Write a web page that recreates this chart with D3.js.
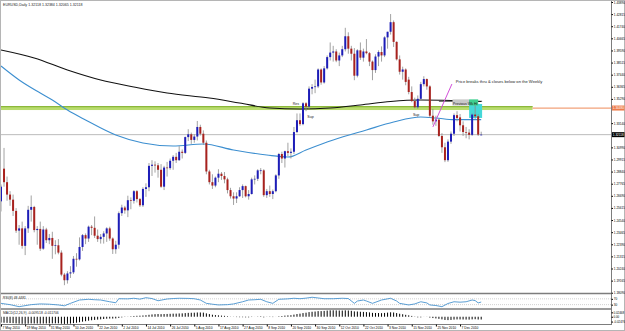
<!DOCTYPE html>
<html>
<head>
<meta charset="utf-8">
<title>EURUSD Daily</title>
<script src="https://cdn.jsdelivr.net/npm/d3@7"></script>
<style>
  body { margin: 0; background: #fff; }
  svg { display: block; font-family: Arial, "Liberation Sans", sans-serif; }
</style>
</head>
<body>
<svg id="chart" width="625" height="331"></svg>
<script>
// EURUSD, Daily  7 May 2010 .. 16 Dec 2010

// one row per day: open, high, low, close
const ohlc = [
  [1.2620,1.2770,1.2530,1.2750],[1.2910,1.3094,1.2750,1.2790],[1.2790,1.2840,1.2625,1.2680],[1.2680,1.2710,1.2580,1.2635],
  [1.2635,1.2680,1.2490,1.2535],[1.2535,1.2560,1.2340,1.2360],[1.2360,1.2410,1.2235,1.2380],[1.2380,1.2440,1.2200,1.2225],
  [1.2225,1.2400,1.2143,1.2380],[1.2380,1.2580,1.2340,1.2545],[1.2545,1.2672,1.2440,1.2570],[1.2570,1.2580,1.2345,1.2365],
  [1.2365,1.2400,1.2235,1.2375],[1.2375,1.2440,1.2180,1.2200],[1.2200,1.2400,1.2190,1.2370],[1.2370,1.2385,1.2250,1.2275],
  [1.2275,1.2330,1.2240,1.2295],[1.2295,1.2350,1.2110,1.2225],[1.2225,1.2275,1.2150,1.2230],[1.2230,1.2285,1.2150,1.2165],
  [1.2165,1.2185,1.1955,1.1970],[1.1970,1.1985,1.1876,1.1920],[1.1920,1.2000,1.1890,1.1980],[1.1980,1.2045,1.1940,1.1990],
  [1.1990,1.2135,1.1975,1.2110],[1.2110,1.2160,1.2040,1.2105],[1.2105,1.2300,1.2095,1.2215],[1.2215,1.2330,1.2180,1.2320],
  [1.2320,1.2335,1.2240,1.2290],[1.2290,1.2405,1.2260,1.2395],[1.2395,1.2410,1.2320,1.2385],[1.2385,1.2486,1.2295,1.2315],
  [1.2315,1.2370,1.2260,1.2285],[1.2285,1.2330,1.2245,1.2305],[1.2305,1.2355,1.2245,1.2335],[1.2335,1.2390,1.2260,1.2380],
  [1.2380,1.2395,1.2270,1.2290],[1.2290,1.2300,1.2153,1.2195],[1.2195,1.2270,1.2155,1.2235],[1.2235,1.2530,1.2200,1.2515],
  [1.2515,1.2590,1.2490,1.2565],[1.2565,1.2580,1.2510,1.2540],[1.2540,1.2670,1.2480,1.2630],[1.2630,1.2655,1.2550,1.2625],
  [1.2625,1.2720,1.2600,1.2710],[1.2710,1.2720,1.2610,1.2640],[1.2640,1.2650,1.2570,1.2585],[1.2585,1.2745,1.2570,1.2730],
  [1.2730,1.2780,1.2660,1.2745],[1.2745,1.2960,1.2710,1.2935],[1.2935,1.2985,1.2845,1.2945],[1.2945,1.2975,1.2875,1.2940],
  [1.2940,1.2960,1.2830,1.2900],[1.2900,1.2950,1.2740,1.2750],[1.2750,1.2935,1.2720,1.2920],[1.2920,1.2970,1.2840,1.2915],
  [1.2915,1.3000,1.2900,1.2980],[1.2980,1.3030,1.2900,1.3015],[1.3015,1.3050,1.2960,1.2985],[1.2985,1.3110,1.2980,1.3060],
  [1.3060,1.3080,1.3000,1.3050],[1.3050,1.3195,1.3040,1.3190],[1.3190,1.3260,1.3155,1.3215],[1.3215,1.3230,1.3130,1.3165],
  [1.3165,1.3215,1.3140,1.3195],[1.3195,1.3333,1.3160,1.3280],[1.3280,1.3300,1.3205,1.3220],[1.3220,1.3250,1.3120,1.3140],
  [1.3140,1.3160,1.2860,1.2885],[1.2885,1.2900,1.2770,1.2790],[1.2790,1.2860,1.2730,1.2760],[1.2760,1.2840,1.2745,1.2830],
  [1.2830,1.2905,1.2790,1.2865],[1.2865,1.2880,1.2810,1.2845],[1.2845,1.2880,1.2780,1.2815],[1.2815,1.2830,1.2690,1.2720],
  [1.2720,1.2740,1.2645,1.2665],[1.2665,1.2700,1.2588,1.2645],[1.2645,1.2700,1.2605,1.2665],[1.2665,1.2745,1.2660,1.2720],
  [1.2720,1.2770,1.2650,1.2755],[1.2755,1.2760,1.2655,1.2665],[1.2665,1.2720,1.2635,1.2685],[1.2685,1.2830,1.2680,1.2815],
  [1.2815,1.2850,1.2770,1.2820],[1.2820,1.2905,1.2800,1.2895],[1.2895,1.2915,1.2860,1.2895],[1.2895,1.2905,1.2660,1.2675],
  [1.2675,1.2730,1.2650,1.2710],[1.2710,1.2760,1.2660,1.2685],[1.2685,1.2725,1.2640,1.2710],[1.2710,1.2860,1.2700,1.2850],
  [1.2850,1.3050,1.2820,1.3040],[1.3040,1.3060,1.2960,1.3000],[1.3000,1.3070,1.2920,1.3065],[1.3065,1.3140,1.3020,1.3050],
  [1.3050,1.3090,1.3000,1.3060],[1.3060,1.3280,1.3040,1.3235],[1.3235,1.3400,1.3225,1.3340],[1.3340,1.3400,1.3290,1.3305],
  [1.3305,1.3500,1.3295,1.3490],[1.3490,1.3500,1.3420,1.3460],[1.3460,1.3640,1.3440,1.3620],[1.3620,1.3660,1.3570,1.3635],
  [1.3635,1.3700,1.3580,1.3640],[1.3640,1.3800,1.3625,1.3790],[1.3790,1.3800,1.3655,1.3675],[1.3675,1.3820,1.3665,1.3800],
  [1.3800,1.3915,1.3790,1.3900],[1.3900,1.4030,1.3870,1.3940],[1.3940,1.4000,1.3860,1.3950],[1.3950,1.3970,1.3855,1.3870],
  [1.3870,1.3940,1.3820,1.3915],[1.3915,1.4000,1.3900,1.3970],[1.3970,1.4160,1.3950,1.4085],[1.4085,1.4120,1.3930,1.3975],
  [1.3975,1.4000,1.3870,1.3930],[1.3930,1.3980,1.3695,1.3735],[1.3735,1.3970,1.3720,1.3960],[1.3960,1.4030,1.3875,1.3895],
  [1.3895,1.3975,1.3860,1.3950],[1.3950,1.4060,1.3925,1.3935],[1.3935,1.3945,1.3820,1.3860],[1.3860,1.3870,1.3695,1.3785],
  [1.3785,1.3925,1.3760,1.3905],[1.3905,1.3960,1.3820,1.3945],[1.3945,1.3995,1.3860,1.3915],[1.3915,1.4085,1.3900,1.4075],
  [1.4075,1.4125,1.3975,1.4125],[1.4125,1.4282,1.4100,1.4210],[1.4210,1.4225,1.3990,1.4035],[1.4035,1.4040,1.3870,1.3880],
  [1.3880,1.3915,1.3745,1.3770],[1.3770,1.3815,1.3700,1.3790],[1.3790,1.3800,1.3650,1.3680],[1.3700,1.3725,1.3570,1.3590],
  [1.3590,1.3640,1.3500,1.3510],[1.3510,1.3540,1.3445,1.3455],[1.3455,1.3560,1.3440,1.3530],[1.3530,1.3680,1.3520,1.3660],
  [1.3660,1.3730,1.3640,1.3705],[1.3705,1.3710,1.3610,1.3640],[1.3640,1.3650,1.3360,1.3380],[1.3380,1.3440,1.3300,1.3330],
  [1.3330,1.3380,1.3290,1.3345],[1.3345,1.3355,1.3190,1.3200],[1.3200,1.3225,1.3050,1.3100],[1.3100,1.3140,1.2968,1.2985],
  [1.2985,1.3170,1.2970,1.3150],[1.3150,1.3240,1.3130,1.3220],[1.3220,1.3400,1.3200,1.3385],[1.3385,1.3420,1.3330,1.3360],
  [1.3365,1.3395,1.3240,1.3295],[1.3295,1.3330,1.3200,1.3235],[1.3235,1.3280,1.3180,1.3230],[1.3230,1.3260,1.3170,1.3210],
  [1.3210,1.3400,1.3200,1.3390],[1.3390,1.3500,1.3350,1.3375],[1.3375,1.3395,1.3200,1.3212],[1.3212,1.3238,1.3207,1.3212]
];

// moving averages: [bar, price]
const maBlack = [[0,1.3963],[11,1.3892],[22,1.3786],[33,1.3697],[44,1.3635],[55,1.3581],[69,1.3537],[79,1.3493],
  [89,1.3448],[99,1.3439],[109,1.3448],[119,1.3475],[129,1.3506],[139,1.3519],[149,1.3515],[159,1.3506]];
const maBlue = [[0,1.3821],[6,1.3697],[13,1.3581],[17,1.3519],[22,1.3430],[28,1.3342],[38,1.3209],[47,1.3138],
  [57,1.3111],[67,1.3129],[77,1.3076],[88,1.3031],[95,1.3013],[101,1.3076],[110,1.3164],[121,1.3253],
  [130,1.3324],[139,1.3368],[144,1.3360],[150,1.3345],[159,1.3345]];

// RSI(8): [bar, value]
const rsi = [[0,39],[3,30],[6,16],[10,30],[13,35],[16,33],[19,28],[21,22],[23,39],[26,62],[29,67],[31,64],[33,62],
  [36,50],[38,43],[39,71],[42,70],[44,74],[46,68],[48,78],[50,72],[52,57],[55,69],[57,72],[59,74],[62,73],[64,71],[66,62],
  [68,39],[70,33],[72,28],[75,30],[77,35],[80,50],[82,62],[84,64],[86,67],[88,50],[90,39],[92,67],[95,70],[97,74],[99,71],
  [101,75],[103,81],[105,76],[107,71],[110,71],[113,74],[115,72],[117,39],[118,55],[120,62],[121,55],[123,39],[126,62],
  [129,74],[131,55],[132,39],[135,28],[137,35],[139,50],[141,42],[142,28],[144,24],[146,16],[148,38],[150,50],[152,47],
  [154,50],[156,62],[157,58],[158,42],[159,48]];

// MACD(12,26,9) main value per bar
const macd = [
  -0.0200,-0.0205,-0.0210,-0.0215,-0.0220,-0.0228,-0.0235,-0.0240,-0.0240,-0.0235,-0.0228,-0.0230,-0.0232,
  -0.0235,-0.0232,-0.0230,-0.0228,-0.0228,-0.0226,-0.0226,-0.0238,-0.0245,-0.0240,-0.0232,-0.0218,-0.0205,-0.0188,-0.0168,
  -0.0152,-0.0135,-0.0120,-0.0108,-0.0098,-0.0088,-0.0078,-0.0068,-0.0062,-0.0062,-0.0058,-0.0040,-0.0022,
  -0.0008,0.0005,0.0015,0.0026,0.0032,0.0036,0.0044,0.0052,0.0066,0.0078,0.0087,0.0092,0.0088,0.0092,0.0095,0.0100,
  0.0105,0.0106,0.0112,0.0115,0.0124,0.0132,0.0135,0.0138,0.0145,0.0145,0.0140,0.0115,0.0090,0.0068,0.0055,0.0047,
  0.0038,0.0030,0.0018,0.0005,-0.0005,-0.0012,-0.0015,-0.0016,-0.0020,-0.0020,-0.0010,-0.0002,0.0008,0.0015,0.0000,
  -0.0005,-0.0010,-0.0012,-0.0002,0.0015,0.0025,0.0038,0.0046,0.0052,0.0072,0.0092,0.0105,0.0125,0.0138,0.0158,0.0170,
  0.0178,0.0192,0.0192,0.0200,0.0210,0.0218,0.0220,0.0215,0.0212,0.0210,0.0218,0.0212,0.0202,0.0182,0.0178,0.0170,
  0.0165,0.0158,0.0148,0.0132,0.0128,0.0126,0.0122,0.0130,0.0140,0.0152,0.0145,0.0125,0.0102,0.0085,0.0065,0.0048,
  0.0028,0.0008,0.0000,0.0000,0.0002,-0.0004,-0.0028,-0.0045,-0.0058,-0.0072,-0.0090,-0.0110,-0.0115,-0.0110,-0.0098,
  -0.0092,-0.0092,-0.0094,-0.0096,-0.0098,-0.0090,-0.0085,-0.0095,-0.0095
];

// axis labels
const priceTicks = [1.43890,1.42815,1.41740,1.40665,1.39590,1.38515,1.37440,1.36365,1.35290,1.34215,1.33140,
  1.32065,1.30990,1.29915,1.28840,1.27765,1.26690,1.25615,1.24540,1.23465,1.22390,1.21315,1.20240,1.19165,1.18090];
const dateTickBars = [0,8,16,24,32,40,48,56,64,72,80,88,96,104,112,120,128,136,144,152];
const dateTickLabels = ['7 May 2010','19 May 2010','31 May 2010','10 Jun 2010','22 Jun 2010','2 Jul 2010','14 Jul 2010',
  '26 Jul 2010','5 Aug 2010','17 Aug 2010','27 Aug 2010','8 Sep 2010','20 Sep 2010','30 Sep 2010','12 Oct 2010',
  '22 Oct 2010','3 Nov 2010','15 Nov 2010','25 Nov 2010','7 Dec 2010'];
const rsiLevels = [70, 30];
const macdTicks = [0.0150, 0, -0.0165];
const macdTickLabels = ['0.02468', '0.00', '-0.02476'];

// drawn objects
const levelPrice = 1.3448;      // horizontal S/R level
const levelEndBar = 176;
const lastPrice = 1.32118;
const weekZone = { from: 155, to: 159.3, hi: 1.3484, lo: 1.3360 };
const trendLine = [[143, 1.3280], [149.3, 1.3661]];
const notes = [
  { bar: 150.6, price: 1.3672, text: 'Price breaks thru &  closes below on the Weekly', size: 4.1 },
  { bar: 96.6, price: 1.3478, text: 'Res', size: 3.6 },
  { bar: 101.4, price: 1.3362, text: 'Sup', size: 3.6 },
  { bar: 136.4, price: 1.3380, text: 'Sup', size: 3.6 }
];
const header = 'EURUSD,Daily  1.32118 1.32384 1.32065 1.32118';
const rsiHeader = 'RSI(8) 48.4481';
const macdHeader = 'MACD(12,26,9) -0.009518 -0.011706';

const W = 625, H = 331;
const axisX = 611;
const mainBottom = 293;

const svg = d3.select('#chart');

const x = d3.scaleLinear().domain([0, 159]).range([1, 481.2]);
const y = d3.scaleLinear().domain([1.1811, 1.4389]).range([292.5, 2]);
const yRsi = d3.scaleLinear().domain([0, 100]).range([309, 294.5]);
const yMacd = d3.scaleLinear().domain([-0.0248, 0.0247]).range([324, 309.5]);

svg.append('rect').attr('width', W).attr('height', H).attr('fill', '#fff');

svg.append('clipPath').attr('id', 'mainclip')
  .append('rect').attr('x', 0).attr('y', 0).attr('width', axisX).attr('height', mainBottom);

const main = svg.append('g').attr('clip-path', 'url(#mainclip)');

// S/R band + its continuation
main.append('rect')
  .attr('x', 0).attr('width', x(levelEndBar))
  .attr('y', y(levelPrice) - 2).attr('height', 4)
  .attr('fill', '#b9dc6e');
main.append('line')
  .attr('x1', 0).attr('x2', x(levelEndBar))
  .attr('y1', y(levelPrice) - 1.5).attr('y2', y(levelPrice) - 1.5)
  .attr('stroke', '#8cb83a').attr('stroke-width', 1.2);
main.append('line')
  .attr('x1', x(levelEndBar)).attr('x2', axisX)
  .attr('y1', y(levelPrice)).attr('y2', y(levelPrice))
  .attr('stroke', '#f2a27a').attr('stroke-width', 1.2);

// last price line
main.append('line')
  .attr('x1', 0).attr('x2', axisX)
  .attr('y1', y(lastPrice)).attr('y2', y(lastPrice))
  .attr('stroke', '#a9a9a9').attr('stroke-width', 0.8);

// weekly zone
main.append('rect')
  .attr('x', x(weekZone.from)).attr('width', x(weekZone.to) - x(weekZone.from))
  .attr('y', y(weekZone.hi)).attr('height', y(weekZone.lo) - y(weekZone.hi))
  .attr('fill', '#45d8d8');

// moving averages
const maLine = d3.line().x(d => x(d[0])).y(d => y(d[1])).curve(d3.curveMonotoneX);
main.append('path').attr('d', maLine(maBlack))
  .attr('fill', 'none').attr('stroke', '#111').attr('stroke-width', 1.1);
main.append('path').attr('d', maLine(maBlue))
  .attr('fill', 'none').attr('stroke', '#3d8fd0').attr('stroke-width', 1.1);

// candles
const candles = main.append('g').selectAll('g').data(ohlc).join('g');
candles.append('line')
  .attr('x1', (d, i) => x(i)).attr('x2', (d, i) => x(i))
  .attr('y1', d => y(d[1])).attr('y2', d => y(d[2]))
  .attr('stroke', '#8a8a8a').attr('stroke-width', 0.8);
candles.append('rect')
  .attr('x', (d, i) => x(i) - 1).attr('width', 2)
  .attr('y', d => y(Math.max(d[0], d[3])))
  .attr('height', d => Math.max(0.7, Math.abs(y(d[0]) - y(d[3]))))
  .attr('fill', d => d[3] >= d[0] ? '#1d1db8' : '#a8221e');

// previous week marker
main.append('line')
  .attr('x1', x(145)).attr('x2', x(159.3))
  .attr('y1', y(1.3508)).attr('y2', y(1.3508))
  .attr('stroke', '#222').attr('stroke-width', 0.8);
main.append('rect')
  .attr('x', x(149.5)).attr('width', x(155) - x(149.5))
  .attr('y', y(1.3525)).attr('height', y(1.3470) - y(1.3525))
  .attr('fill', '#c9c9c9');
main.append('rect')
  .attr('x', x(155)).attr('width', x(158) - x(155))
  .attr('y', y(1.3525)).attr('height', y(1.3470) - y(1.3525))
  .attr('fill', '#3fcf8f');
main.append('text')
  .attr('x', x(149.6)).attr('y', y(1.3478))
  .attr('font-size', 3.6).attr('fill', '#222')
  .text('Previous Wk Hi');

// trend line
main.append('line')
  .attr('x1', x(trendLine[0][0])).attr('y1', y(trendLine[0][1]))
  .attr('x2', x(trendLine[1][0])).attr('y2', y(trendLine[1][1]))
  .attr('stroke', '#d24fd8').attr('stroke-width', 1);

main.selectAll('text.note').data(notes).join('text')
  .attr('class', 'note')
  .attr('x', d => x(d.bar)).attr('y', d => y(d.price))
  .attr('font-size', d => d.size).attr('fill', '#222')
  .text(d => d.text);

svg.append('text').attr('x', 3).attr('y', 6).attr('font-size', 3.6).attr('fill', '#222').text(header);

// RSI panel
const rsiG = svg.append('g');
rsiG.selectAll('line.lvl').data(rsiLevels).join('line')
  .attr('class', 'lvl')
  .attr('x1', 0).attr('x2', axisX)
  .attr('y1', d => yRsi(d)).attr('y2', d => yRsi(d))
  .attr('stroke', '#b0b0b0').attr('stroke-width', 0.6).attr('stroke-dasharray', '1,1');
rsiG.append('path')
  .attr('d', d3.line().x(d => x(d[0])).y(d => yRsi(d[1]))(rsi))
  .attr('fill', 'none').attr('stroke', '#4a94cf').attr('stroke-width', 0.9);
rsiG.append('text').attr('x', 3).attr('y', 298.5).attr('font-size', 3.4).attr('fill', '#222').text(rsiHeader);

// MACD panel
const macdG = svg.append('g');
macdG.selectAll('line').data(macd).join('line')
  .attr('x1', (d, i) => x(i)).attr('x2', (d, i) => x(i))
  .attr('y1', yMacd(0)).attr('y2', d => yMacd(d) + (d === 0 ? 0.6 : 0))
  .attr('stroke', '#000').attr('stroke-width', 1);
macdG.append('text').attr('x', 3).attr('y', 313.5).attr('font-size', 3.4).attr('fill', '#222').text(macdHeader);

// panel frames
const sep = svg.append('g').attr('stroke', '#7d7d7d');
sep.append('line').attr('x1', 0).attr('x2', axisX).attr('y1', 293.5).attr('y2', 293.5).attr('stroke-width', 1.6);
sep.append('line').attr('x1', 0).attr('x2', axisX).attr('y1', 309).attr('y2', 309).attr('stroke-width', 1.4);
sep.append('line').attr('x1', 0).attr('x2', axisX).attr('y1', 324.5).attr('y2', 324.5).attr('stroke-width', 1);
sep.append('line').attr('x1', axisX + 0.5).attr('x2', axisX + 0.5).attr('y1', 0).attr('y2', 325).attr('stroke-width', 1);
svg.append('rect').attr('x', 0.5).attr('y', 0.5).attr('width', W - 1).attr('height', H - 1)
  .attr('fill', 'none').attr('stroke', '#b5b5b5');

// price axis
const shownTicks = priceTicks.filter(v => Math.abs(y(v) - y(levelPrice)) > 5 && Math.abs(y(v) - y(lastPrice)) > 5);
const yAxis = svg.append('g').attr('transform', `translate(${axisX + 0.5},0)`)
  .call(d3.axisRight(y).tickValues(shownTicks).tickSize(1.5).tickPadding(0.8).tickFormat(d3.format('.5f')));
yAxis.select('.domain').remove();
yAxis.attr('font-size', 3.1).attr('font-family', null);

function boxLabel(price, fill, txt) {
  svg.append('rect').attr('x', axisX + 1).attr('width', W - axisX - 1.5)
    .attr('y', y(price) - 2.5).attr('height', 5).attr('fill', fill);
  svg.append('text').attr('x', axisX + 1.8).attr('y', y(price) + 1.1)
    .attr('font-size', 3.1).attr('fill', '#fff').text(txt);
}
boxLabel(levelPrice, '#ee7b4a', d3.format('.5f')(levelPrice));
boxLabel(lastPrice, '#000', d3.format('.5f')(lastPrice));

// subwindow axes
const rAxis = svg.append('g').attr('transform', `translate(${axisX + 0.5},0)`)
  .call(d3.axisRight(yRsi).tickValues(rsiLevels).tickSize(1.5).tickPadding(0.8));
rAxis.select('.domain').remove();
rAxis.attr('font-size', 3.1).attr('font-family', null);

const mAxis = svg.append('g').attr('transform', `translate(${axisX + 0.5},0)`)
  .call(d3.axisRight(yMacd).tickValues(macdTicks).tickSize(1.5).tickPadding(0.6)
    .tickFormat((d, i) => macdTickLabels[i]));
mAxis.select('.domain').remove();
mAxis.attr('font-size', 2.9).attr('font-family', null);

// date axis
const xAxis = svg.append('g').attr('transform', 'translate(0,324.5)')
  .call(d3.axisBottom(x).tickValues(dateTickBars).tickSize(2).tickPadding(1)
    .tickFormat((d, i) => dateTickLabels[i]));
xAxis.select('.domain').remove();
xAxis.attr('font-size', 3.3).attr('font-family', null);
xAxis.selectAll('text').attr('text-anchor', 'start').attr('dx', 1).attr('dy', '0.5em');
</script>
</body>
</html>
